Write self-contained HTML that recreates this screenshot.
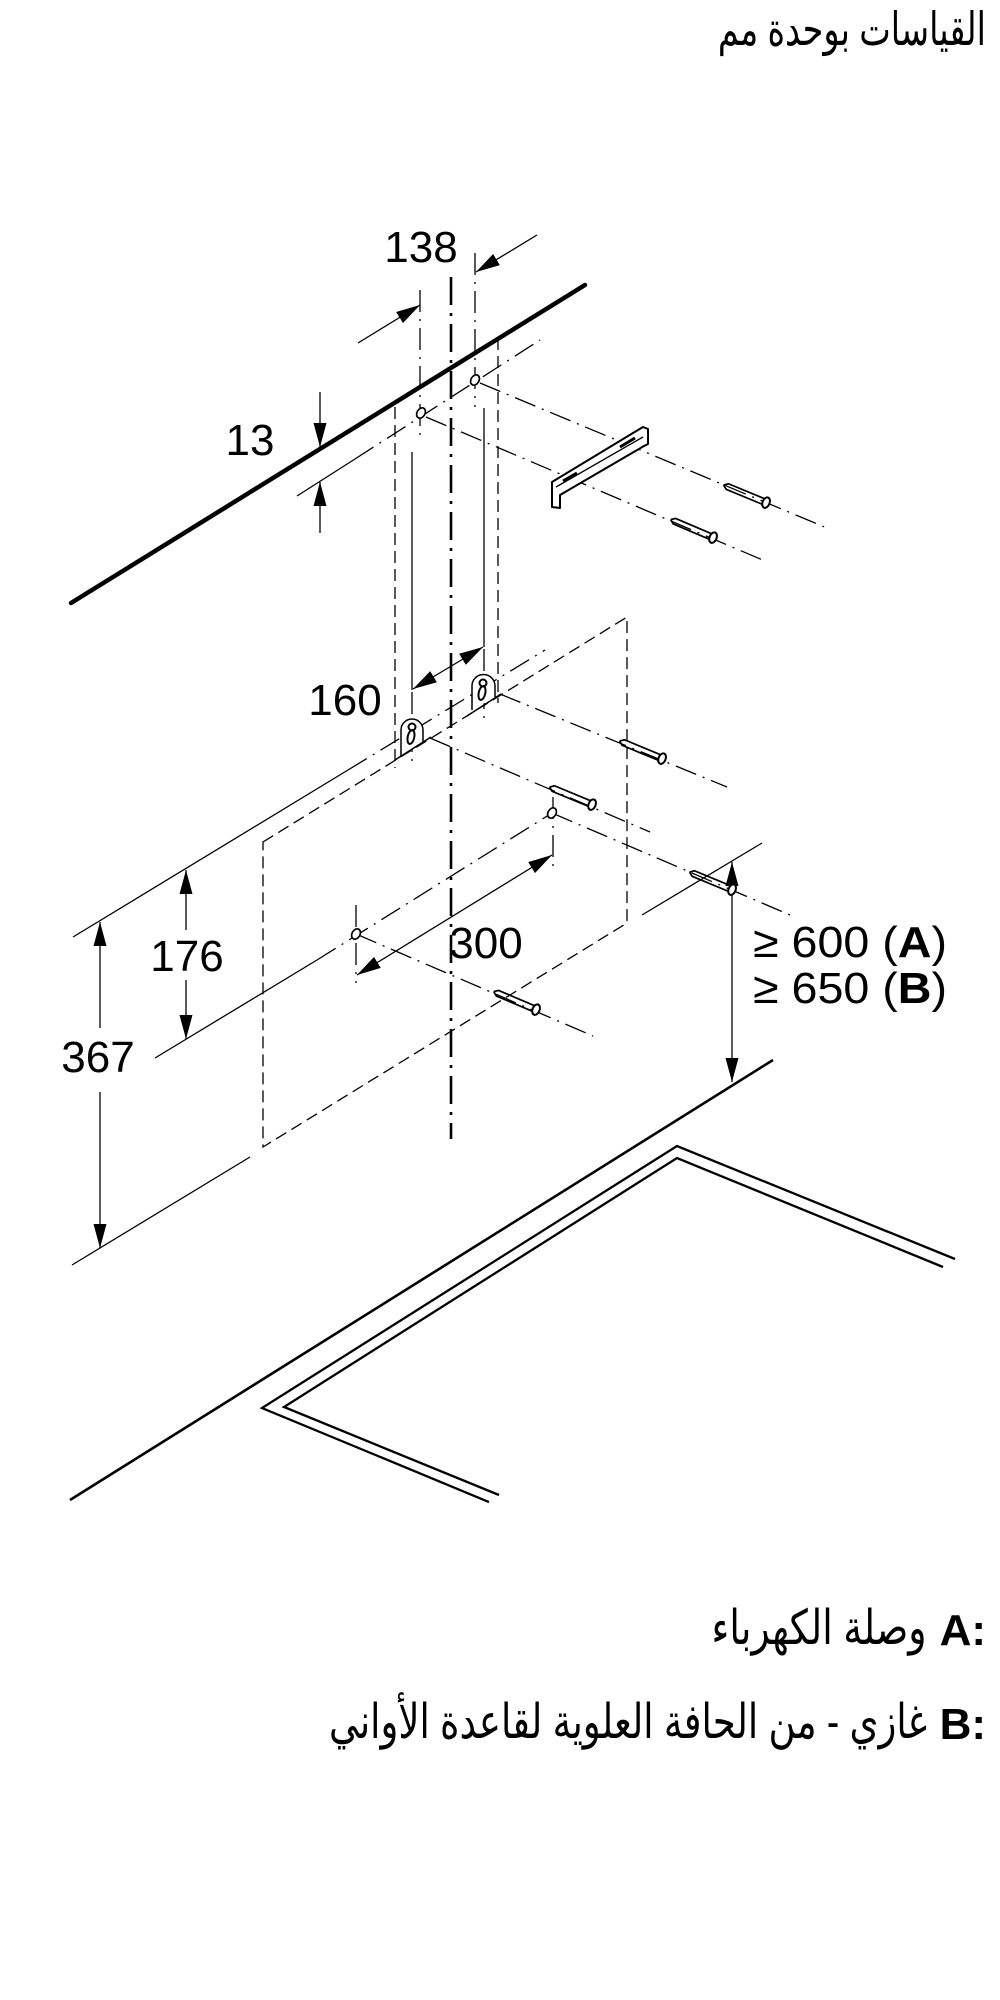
<!DOCTYPE html>
<html lang="ar">
<head>
<meta charset="utf-8">
<style>
html,body{margin:0;padding:0;width:1000px;height:2000px;overflow:hidden;background:#fff;}
.ar{position:absolute;white-space:nowrap;line-height:1;transform-origin:100% 50%;font-family:"Liberation Sans","DejaVu Sans",sans-serif;color:#000;}
svg{position:absolute;left:0;top:0;}
.dd{stroke-dasharray:22 7 2 7;}
.ds{stroke-dasharray:12 6;}
</style>
</head>
<body>
<svg width="1000" height="2000" viewBox="0 0 1000 2000" xmlns="http://www.w3.org/2000/svg">
<defs>
<marker id="ah" viewBox="0 0 24 13" refX="24" refY="6.5" markerWidth="24" markerHeight="13" markerUnits="userSpaceOnUse" orient="auto-start-reverse">
<path d="M0,0 L24,6.5 L0,13 z" fill="#000" stroke="none"/>
</marker>
</defs>

<g stroke="#000" fill="none" stroke-width="1.3" stroke-linecap="butt">
<line x1="71" y1="603" x2="585" y2="285" stroke-width="4.5" stroke-linecap="round"/>
<line x1="451" y1="277" x2="451" y2="1139" stroke-width="2.6" stroke-dasharray="28 8 3 8"/>

<line class="dd" x1="420" y1="290" x2="420" y2="440"/>
<line class="dd" x1="475" y1="253" x2="475" y2="407"/>
<line x1="358" y1="343" x2="420" y2="305" marker-end="url(#ah)"/>
<line x1="537" y1="235" x2="476" y2="272" marker-end="url(#ah)"/>

<line x1="320" y1="392" x2="320" y2="447" marker-end="url(#ah)"/>
<line x1="320" y1="533" x2="320" y2="482" marker-end="url(#ah)"/>
<line x1="297" y1="496" x2="355" y2="459"/>
<line class="dd" x1="355" y1="459" x2="540" y2="340"/>

<line class="dd" x1="480" y1="383" x2="827" y2="528"/>
<line class="dd" x1="426" y1="417" x2="765" y2="561"/>

<line class="ds" x1="395" y1="407" x2="395" y2="768"/>
<line class="ds" x1="498" y1="338" x2="498" y2="703"/>
<line x1="412" y1="452" x2="412" y2="690"/>
<line x1="484" y1="408" x2="484" y2="647"/>
<line class="dd" x1="412" y1="692" x2="412" y2="765"/>
<line class="dd" x1="484" y1="649" x2="484" y2="718"/>

<line x1="413" y1="689" x2="483" y2="647" marker-start="url(#ah)" marker-end="url(#ah)"/>

<polygon class="ds" points="263,842 627,617 627,923 263,1147"/>

<line x1="73" y1="937" x2="348" y2="770"/>
<line class="dd" x1="348" y1="770" x2="545" y2="650"/>

<line class="dd" x1="500" y1="694" x2="727" y2="787"/>
<line class="dd" x1="430" y1="738" x2="650" y2="832"/>
<line class="dd" x1="552" y1="813" x2="790" y2="915"/>
<line class="dd" x1="356" y1="934" x2="593" y2="1036"/>

<line x1="155" y1="1058" x2="317" y2="960"/>
<line class="dd" x1="317" y1="960" x2="552" y2="813"/>

<line class="dd" x1="553" y1="797" x2="553" y2="873"/>
<line class="dd" x1="356" y1="905" x2="356" y2="983"/>
<line x1="357" y1="975" x2="552" y2="855" marker-start="url(#ah)" marker-end="url(#ah)"/>

<line x1="186" y1="930" x2="186" y2="870" marker-end="url(#ah)"/>
<line x1="186" y1="980" x2="186" y2="1039" marker-end="url(#ah)"/>

<line x1="100" y1="1028" x2="100" y2="922" marker-end="url(#ah)"/>
<line x1="100" y1="1092" x2="100" y2="1248" marker-end="url(#ah)"/>
<line x1="72" y1="1265" x2="250" y2="1157"/>

<line x1="642" y1="915" x2="762" y2="843"/>
<line x1="732" y1="862" x2="732" y2="1082" marker-start="url(#ah)" marker-end="url(#ah)"/>

<line x1="70" y1="1500" x2="773" y2="1060" stroke-width="2.6"/>
<polyline points="489,1502 262,1408 677,1146 955,1259" stroke-width="2.3" stroke-linejoin="miter"/>
<polyline points="499,1495 284,1407 677,1158 943,1267" stroke-width="2.3" stroke-linejoin="miter"/>
</g>

<g stroke="#000" stroke-width="1.7" fill="#fff">
<ellipse cx="421" cy="413" rx="4" ry="5.5" transform="rotate(30 421 413)"/>
<ellipse cx="475" cy="380" rx="4" ry="5.5" transform="rotate(30 475 380)"/>
<ellipse cx="552" cy="813" rx="4" ry="5.5" transform="rotate(30 552 813)"/>
<ellipse cx="356" cy="934" rx="4" ry="5.5" transform="rotate(30 356 934)"/>
</g>

<g stroke="#000" stroke-width="1.5" fill="none">
<path d="M401,756 L401,730 A11,11 0 0 1 423,730 L423,742" fill="#fff"/>
<line x1="395" y1="760" x2="431" y2="737"/>
<circle cx="412" cy="727" r="3.5" stroke-width="2"/>
<ellipse cx="411" cy="737" rx="3.3" ry="7" stroke-width="2" transform="rotate(12 411 737)"/>

<path d="M472,710 L472,686 A11.5,11.5 0 0 1 495,686 L495,697" fill="#fff"/>
<line x1="467" y1="716" x2="501" y2="694"/>
<circle cx="483" cy="683" r="3.5" stroke-width="2"/>
<ellipse cx="482" cy="693" rx="3.3" ry="7" stroke-width="2" transform="rotate(12 482 693)"/>
</g>

<g stroke="#000" stroke-width="2" fill="#fff" stroke-linejoin="round">
<polygon points="552,482 643,427 648,429 648,444 644,446 560,495 560,508 552,507"/>
<line x1="556" y1="487" x2="643" y2="437" stroke-width="1.3"/>
<line x1="563" y1="481" x2="577" y2="473" stroke-width="3"/>
<line x1="620" y1="447" x2="635" y2="438" stroke-width="3"/>
</g>

<g stroke="#000" stroke-width="1.7" fill="none">
<g transform="translate(767,503) rotate(22.5)"><path d="M-47,0 L-43,-3 L-4,-3 M-47,0 L-43,3 L-4,3"/><ellipse cx="-1" cy="0" rx="3.5" ry="5.5" fill="#fff" stroke-width="2"/></g>
<g transform="translate(714,538) rotate(23)"><path d="M-47,0 L-43,-3 L-4,-3 M-47,0 L-43,3 L-4,3"/><ellipse cx="-1" cy="0" rx="3.5" ry="5.5" fill="#fff" stroke-width="2"/></g>
<g transform="translate(663,759) rotate(22.5)"><path d="M-47,0 L-43,-3 L-4,-3 M-47,0 L-43,3 L-4,3"/><ellipse cx="-1" cy="0" rx="3.5" ry="5.5" fill="#fff" stroke-width="2"/></g>
<g transform="translate(593,805) rotate(22.5)"><path d="M-47,0 L-43,-3 L-4,-3 M-47,0 L-43,3 L-4,3"/><ellipse cx="-1" cy="0" rx="3.5" ry="5.5" fill="#fff" stroke-width="2"/></g>
<g transform="translate(733,890) rotate(22.5)"><path d="M-47,0 L-43,-3 L-4,-3 M-47,0 L-43,3 L-4,3"/><ellipse cx="-1" cy="0" rx="3.5" ry="5.5" fill="#fff" stroke-width="2"/></g>
<g transform="translate(537,1010) rotate(23)"><path d="M-47,0 L-43,-3 L-4,-3 M-47,0 L-43,3 L-4,3"/><ellipse cx="-1" cy="0" rx="3.5" ry="5.5" fill="#fff" stroke-width="2"/></g>
</g>

<g font-family="'Liberation Sans', Arial, sans-serif" font-size="44" fill="#000">
<text x="421" y="262" text-anchor="middle">138</text>
<text x="250" y="455" text-anchor="middle">13</text>
<text x="345" y="715" text-anchor="middle">160</text>
<text x="187" y="971" text-anchor="middle">176</text>
<text x="98" y="1072" text-anchor="middle">367</text>
<text x="486" y="958" text-anchor="middle">300</text>
<text x="753" y="957" textLength="194" lengthAdjust="spacingAndGlyphs">≥ 600 (<tspan font-weight="bold">A</tspan>)</text>
<text x="753" y="1003" textLength="194" lengthAdjust="spacingAndGlyphs">≥ 650 (<tspan font-weight="bold">B</tspan>)</text>
</g>
</svg>

<div id="t1" class="ar" dir="rtl" style="right:14px;top:6px;font-size:46px;">القياسات بوحدة مم</div>

<div class="ar" style="right:14px;top:1609px;font-size:44px;font-weight:bold;">A:</div>
<div id="t2" class="ar" dir="rtl" style="right:73px;top:1605px;font-size:48px;">وصلة الكهرباء</div>

<div class="ar" style="right:14px;top:1703px;font-size:44px;font-weight:bold;">B:</div>
<div id="t3" class="ar" dir="rtl" style="right:73px;top:1699px;font-size:48px;">غازي - من الحافة العلوية لقاعدة الأواني</div>

<script>
(function(){
  function fit(id,w){
    var e=document.getElementById(id);
    if(!e) return;
    var r=e.getBoundingClientRect().width;
    if(r>0){ e.style.transform='scaleX('+(w/r)+')'; }
  }
  fit('t1',268);
  fit('t2',215);
  fit('t3',598);
})();
</script>
</body>
</html>
